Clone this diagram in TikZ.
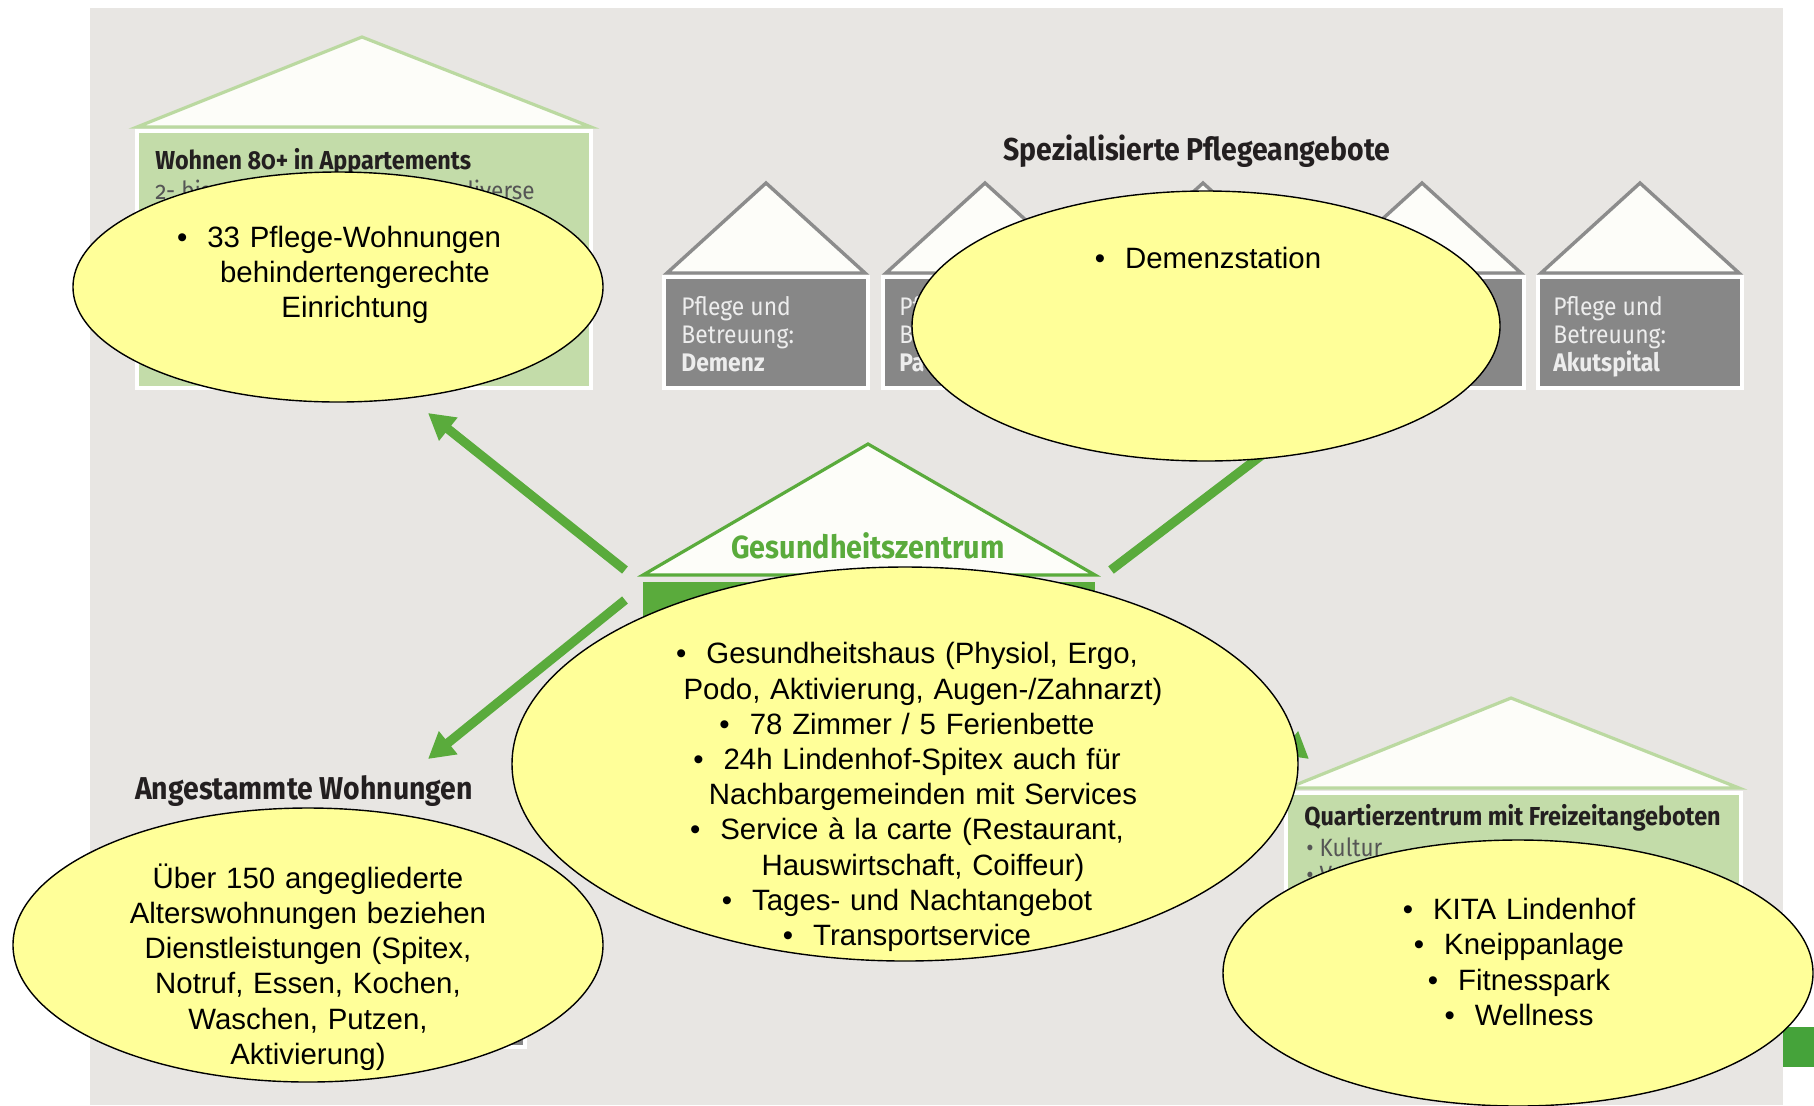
\documentclass[tikz,border=0pt]{standalone}
\usepackage{fontspec}
\setmainfont{Liberation Sans}
\newfontfamily\housefont{Fira Sans}[Numbers=OldStyle,FakeStretch=0.9]
\usetikzlibrary{shapes.geometric,arrows.meta}

\definecolor{bggray}{HTML}{E8E6E3}
\definecolor{bubyellow}{HTML}{FFFF99}
\definecolor{lgreen}{HTML}{C3DCA9}
\definecolor{lgreenline}{HTML}{BBD9A1}
\definecolor{mgreen}{HTML}{5AAB3C}
\definecolor{dgray}{HTML}{878787}
\definecolor{roofgray}{HTML}{8C8C8C}
\definecolor{roofwhite}{HTML}{FDFDF9}
\definecolor{textdark}{HTML}{231F20}
\definecolor{textsub}{HTML}{555555}
\definecolor{cornergreen}{HTML}{45A33A}

\newcommand\blt{\textbullet\hspace{10pt}}
\newcommand\cont{\hspace*{16pt}}

\tikzset{
  roofpale/.style={fill=roofwhite, draw=lgreenline, line width=1.6pt},
  bodypale/.style={fill=lgreen, draw=white, line width=2pt},
  roofgrey/.style={fill=roofwhite, draw=roofgray, line width=1.7pt},
  bodygrey/.style={fill=dgray, draw=white, line width=2pt},
  roofmid/.style={fill=roofwhite, draw=mgreen, line width=1.6pt},
  bubble/.style={ellipse, fill=bubyellow, draw=black, line width=0.7pt, inner sep=0pt},
  bubtext/.style={align=center, text width=300pt, inner sep=0pt,
    font=\fontsize{14.7}{17.6}\selectfont},
  htitle/.style={inner sep=0pt, text=textdark,
    font=\housefont\bfseries\fontsize{15.8}{17}\selectfont},
  hhead/.style={inner sep=0pt, text=textdark,
    font=\housefont\bfseries\fontsize{13}{15}\selectfont},
  hsub/.style={inner sep=0pt, text=textsub,
    font=\housefont\fontsize{12.5}{14}\selectfont},
  gtext/.style={inner sep=0pt, align=left, text=white!93!black, anchor=north west,
    font=\housefont\fontsize{12.7}{13.9}\selectfont},
  arr/.style={draw=mgreen, line width=4.6pt, -{Triangle[length=13pt,width=14pt]}},
}

\begin{document}
\begin{tikzpicture}[x=0.5pt,y=-0.5pt]
\useasboundingbox (0,0) rectangle (1814,1105);
\fill[bggray] (90,8) rectangle (1783,1105);
\fill[cornergreen] (1783,1027) rectangle (1814,1067);

% Wohnen 80+
\draw[roofpale] (137,127) -- (362,37) -- (591,127) -- cycle;
\draw[bodypale] (137,131) rectangle (591,388);
\node[hhead, anchor=west] (w_head) at (155,162) {Wohnen 80+ in Appartements};
\node[hsub, anchor=west] (w_sub1) at (155,190) {2- bis};
\node[hsub, anchor=east] (w_sub2) at (535,190) {diverse};

% Spezialisierte Pflegeangebote
\node[htitle] (s_title) at (1197,151) {Spezialisierte Pflegeangebote};
\foreach \cx in {766,985,1203,1422,1640} {
  \draw[roofgrey] (\cx-99,273) -- (\cx,183) -- (\cx+99,273) -- cycle;
  \draw[bodygrey] (\cx-102,277) rectangle (\cx+102,388);
}
\node[gtext] (s_dem) at (681,296) {Pflege und\\Betreuung:\\\textbf{Demenz}};
\node[gtext] (s_pal) at (899,296) {Pflege und\\Betreuung:\\\textbf{Pa}};
\node[gtext] (s_akut) at (1553,296) {Pflege und\\Betreuung:\\\textbf{Akutspital}};

% Gesundheitszentrum
\draw[roofmid] (643,575) -- (868,444) -- (1095,575) -- cycle;
\fill[mgreen] (643,582) rectangle (1095,820);
\node[htitle, text=mgreen, font=\housefont\bfseries\fontsize{16}{18}\selectfont] (g_title) at (868,546) {Gesundheitszentrum};

% Angestammte Wohnungen
\node[htitle] (a_title) at (304,791) {Angestammte Wohnungen};
\draw[bodygrey] (140,875) rectangle (525,1047);

% Quartierzentrum
\draw[roofpale] (1288,788) -- (1511,698) -- (1739,788) -- cycle;
\draw[bodypale] (1286,793) rectangle (1741,1015);
\node[hhead, anchor=west] (q_head) at (1304,818) {Quartierzentrum mit Freizeitangeboten};
\node[hsub, anchor=west] (q_sub1) at (1306,847) {\textbullet\ Kultur};
\node[hsub, anchor=west] (q_sub2) at (1306,875) {\textbullet\ V};

% arrows
\coordinate (a_wo_s) at (625,570);
\coordinate (a_wo_e) at (428,413);
\coordinate (a_sp_s) at (1111,570);
\coordinate (a_sp_e) at (1300,426);
\coordinate (a_an_s) at (625,600);
\coordinate (a_an_e) at (428,759);
\coordinate (a_qu_s) at (1111,600);
\coordinate (a_qu_e) at (1309,759);
\draw[arr] (a_wo_s) -- (a_wo_e);
\draw[arr] (a_sp_s) -- (a_sp_e);
\draw[arr] (a_an_s) -- (a_an_e);
\draw[arr] (a_qu_s) -- (a_qu_e);

% bubbles
\node[bubble, minimum width=265pt, minimum height=115pt] (e_wohnen) at (338,287) {};
\node[bubtext] (t_wohnen) at (339,275) {\blt 33 Pflege-Wohnungen\\\cont behindertengerechte\\\cont Einrichtung};

\node[bubble, minimum width=294pt, minimum height=135pt] (e_spez) at (1206,326) {};
\node[bubtext] (t_spez) at (1208,258) {\blt Demenzstation};

\node[bubble, minimum width=393pt, minimum height=197pt] (e_gz) at (905,764) {};
\node[bubtext] (t_gz) at (907,797) {\blt Gesundheitshaus (Physiol, Ergo,\\
  \cont Podo, Aktivierung, Augen-/Zahnarzt)\\
  \blt 78 Zimmer / 5 Ferienbette\\
  \blt 24h Lindenhof-Spitex auch für\\
  \cont Nachbargemeinden mit Services\\
  \blt Service à la carte (Restaurant,\\
  \cont Hauswirtschaft, Coiffeur)\\
  \blt Tages- und Nachtangebot\\
  \blt Transportservice};

\node[bubble, minimum width=295pt, minimum height=137pt] (e_ang) at (308,945) {};
\node[bubtext] (t_ang) at (308,967) {Über 150 angegliederte\\Alterswohnungen beziehen\\Dienstleistungen (Spitex,\\Notruf, Essen, Kochen,\\Waschen, Putzen,\\Aktivierung)};

\node[bubble, minimum width=295pt, minimum height=133pt] (e_quart) at (1518,973) {};
\node[bubtext] (t_quart) at (1519,962) {\blt KITA Lindenhof\\\blt Kneippanlage\\\blt Fitnesspark\\\blt Wellness};
\end{tikzpicture}
\end{document}
